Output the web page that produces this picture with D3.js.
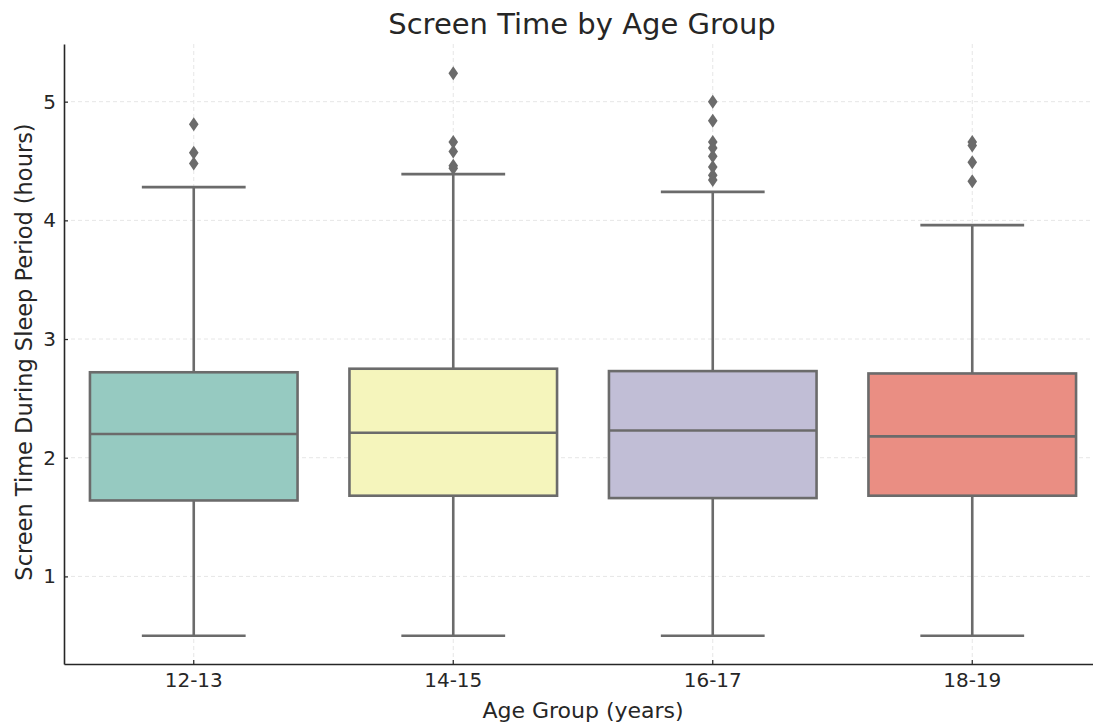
<!DOCTYPE html>
<html>
<head>
<meta charset="utf-8">
<script src="https://cdn.jsdelivr.net/npm/d3@7"></script>
<style>
  body { margin: 0; background: #fff; }
  svg { font-family: "DejaVu Sans", sans-serif; }
</style>
</head>
<body>
<svg id="chart"></svg>
<script>
// values
const groups = ["12-13", "14-15", "16-17", "18-19"]
const q1 = [1.64, 1.68, 1.66, 1.68]
const medians = [2.20, 2.21, 2.23, 2.18]
const q3 = [2.72, 2.75, 2.73, 2.71]
const whiskerLow = [0.50, 0.50, 0.50, 0.50]
const whiskerHigh = [4.28, 4.39, 4.24, 3.96]
const outliers = [
    [4.81, 4.57, 4.48],
    [5.24, 4.66, 4.58, 4.46, 4.44],
    [5.00, 4.84, 4.66, 4.61, 4.54, 4.45, 4.38, 4.34],
    [4.66, 4.63, 4.49, 4.33]
]
const yTicks = [1, 2, 3, 4, 5]
const colors = ["#96cac1", "#f5f5bc", "#c1bed6", "#ea8e83"]

const WIDTH = 1093
const HEIGHT = 723
const LEFT = 64, RIGHT = 1102, TOP = 44, BOTTOM = 664
const LINE = "#6b6b6b"
const TEXT = "#262626"

const svg = d3.select("#chart")
    .attr("width", WIDTH)
    .attr("height", HEIGHT)

const x = d3.scaleBand().domain(groups).range([LEFT, RIGHT]).padding(0)
const y = d3.scaleLinear().domain([0.262, 5.486]).range([BOTTOM, TOP])

const boxW = x.bandwidth() * 0.8
const capW = boxW * 0.5
const cx = g => x(g) + x.bandwidth() / 2

// grid
const grid = svg.append("g")
grid.selectAll(".hgrid")
    .data(yTicks)
    .enter()
    .append("line")
    .attr("x1", LEFT).attr("x2", RIGHT)
    .attr("y1", d => y(d)).attr("y2", d => y(d))
    .attr("stroke", "#e6e6e6")
    .attr("stroke-width", 1)
    .attr("stroke-dasharray", "4,3")
grid.selectAll(".vgrid")
    .data(groups)
    .enter()
    .append("line")
    .attr("x1", d => cx(d)).attr("x2", d => cx(d))
    .attr("y1", TOP).attr("y2", BOTTOM)
    .attr("stroke", "#e6e6e6")
    .attr("stroke-width", 1)
    .attr("stroke-dasharray", "4,3")

const data = groups.map((g, i) => ({
    g: g, q1: q1[i], med: medians[i], q3: q3[i],
    lo: whiskerLow[i], hi: whiskerHigh[i], out: outliers[i], color: colors[i]
}))

const box = svg.selectAll(".box")
    .data(data)
    .enter()
    .append("g")
    .classed("box", true)

// whiskers
box.append("line")
    .attr("x1", d => cx(d.g)).attr("x2", d => cx(d.g))
    .attr("y1", d => y(d.hi)).attr("y2", d => y(d.q3))
    .attr("stroke", LINE).attr("stroke-width", 2.6)
box.append("line")
    .attr("x1", d => cx(d.g)).attr("x2", d => cx(d.g))
    .attr("y1", d => y(d.q1)).attr("y2", d => y(d.lo))
    .attr("stroke", LINE).attr("stroke-width", 2.6)
// caps
box.append("line")
    .attr("x1", d => cx(d.g) - capW / 2).attr("x2", d => cx(d.g) + capW / 2)
    .attr("y1", d => y(d.hi)).attr("y2", d => y(d.hi))
    .attr("stroke", LINE).attr("stroke-width", 2.6)
box.append("line")
    .attr("x1", d => cx(d.g) - capW / 2).attr("x2", d => cx(d.g) + capW / 2)
    .attr("y1", d => y(d.lo)).attr("y2", d => y(d.lo))
    .attr("stroke", LINE).attr("stroke-width", 2.6)
// box
box.append("rect")
    .attr("x", d => cx(d.g) - boxW / 2)
    .attr("width", boxW)
    .attr("y", d => y(d.q3))
    .attr("height", d => y(d.q1) - y(d.q3))
    .attr("fill", d => d.color)
    .attr("stroke", LINE).attr("stroke-width", 2.6)
// median
box.append("line")
    .attr("x1", d => cx(d.g) - boxW / 2).attr("x2", d => cx(d.g) + boxW / 2)
    .attr("y1", d => y(d.med)).attr("y2", d => y(d.med))
    .attr("stroke", LINE).attr("stroke-width", 2.6)
// outliers
box.selectAll(".flier")
    .data(d => d.out.map(v => ({ g: d.g, v: v })))
    .enter()
    .append("path")
    .attr("d", "M0,-7L4.8,0L0,7L-4.8,0Z")
    .attr("transform", d => `translate(${cx(d.g)},${y(d.v)})`)
    .attr("fill", LINE)

// axes, ticks point inward
const yAxis = svg.append("g")
    .attr("transform", `translate(${LEFT},0)`)
    .call(d3.axisLeft(y).tickValues(yTicks).tickSizeInner(-4).tickSizeOuter(0).tickPadding(8).tickFormat(d3.format("d")))
yAxis.select(".domain").attr("stroke", TEXT).attr("stroke-width", 1.6)
yAxis.selectAll(".tick line").attr("stroke", TEXT).attr("stroke-width", 1.2)
yAxis.selectAll(".tick text")
    .style("font-family", "DejaVu Sans")
    .style("font-size", "20px")
    .style("fill", TEXT)

const xAxis = svg.append("g")
    .attr("transform", `translate(0,${BOTTOM})`)
    .call(d3.axisBottom(x).tickSizeInner(-4).tickSizeOuter(0).tickPadding(9))
xAxis.select(".domain").attr("stroke", TEXT).attr("stroke-width", 1.6)
xAxis.selectAll(".tick line").attr("stroke", TEXT).attr("stroke-width", 1.2)
xAxis.selectAll(".tick text")
    .style("font-family", "DejaVu Sans")
    .style("font-size", "20px")
    .style("fill", TEXT)

// labels
svg.append("text")
    .attr("x", 582).attr("y", 34)
    .attr("text-anchor", "middle")
    .style("font-size", "29px")
    .style("fill", TEXT)
    .text("Screen Time by Age Group")

svg.append("text")
    .attr("x", 583).attr("y", 718)
    .attr("text-anchor", "middle")
    .style("font-size", "22px")
    .style("fill", TEXT)
    .text("Age Group (years)")

svg.append("text")
    .attr("transform", "translate(32,352) rotate(-90)")
    .attr("text-anchor", "middle")
    .style("font-size", "22.5px")
    .style("fill", TEXT)
    .text("Screen Time During Sleep Period (hours)")
</script>
</body>
</html>
